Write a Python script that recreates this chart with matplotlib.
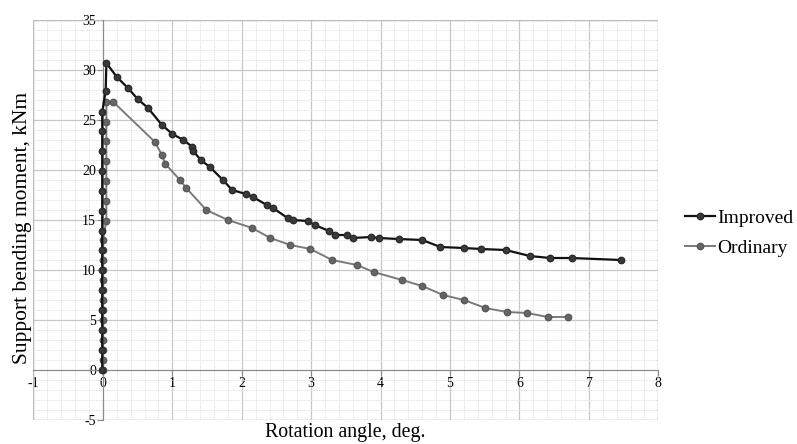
import matplotlib.pyplot as plt
from matplotlib.ticker import MultipleLocator
import matplotlib.lines as mlines

plt.rcParams['font.family'] = ['Liberation Serif', 'DejaVu Serif']
plt.rcParams['axes.unicode_minus'] = False

# Improved
imp_x = [-0.01, -0.01, -0.01, -0.01, -0.01, -0.01, -0.01, -0.01, -0.01, -0.01, -0.01, -0.01, -0.01, -0.01,
         0.04, 0.05, 0.2, 0.36, 0.5, 0.65, 0.85, 1.0, 1.16, 1.29, 1.3, 1.41, 1.54, 1.73, 1.86, 2.06, 2.16,
         2.36, 2.45, 2.66, 2.74, 2.95, 3.05, 3.26, 3.35, 3.51, 3.6, 3.86, 3.97, 4.26, 4.6, 4.86, 5.2, 5.45,
         5.8, 6.15, 6.44, 6.75, 7.46]
imp_y = [0, 2, 4, 6, 8, 10, 12, 13.9, 15.9, 17.9, 19.9, 21.9, 23.9, 25.8,
         27.9, 30.7, 29.3, 28.2, 27.1, 26.2, 24.5, 23.6, 23.0, 22.3, 21.9, 21.0, 20.3, 19.0, 18.0, 17.6, 17.3,
         16.5, 16.2, 15.2, 15.0, 14.9, 14.5, 13.9, 13.5, 13.5, 13.2, 13.3, 13.2, 13.1, 13.0, 12.3, 12.2, 12.1,
         12.0, 11.4, 11.2, 11.2, 11.0]

# Ordinary
ord_x = [0, 0, 0, 0, 0, 0, 0, 0, 0, 0, 0, 0, 0, 0,
         0.05, 0.05, 0.05, 0.05, 0.05, 0.05, 0.05, 0.15,
         0.75, 0.85, 0.9, 1.11, 1.2, 1.49, 1.8, 2.15, 2.41, 2.7, 2.99, 3.3, 3.66, 3.9, 4.31, 4.6,
         4.9, 5.2, 5.51, 5.82, 6.11, 6.41, 6.7]
ord_y = [0, 1, 2, 3, 4, 5, 6, 7, 8, 9, 10, 11, 12, 13,
         14.9, 16.9, 18.9, 20.9, 22.9, 24.8, 26.8, 26.8,
         22.8, 21.5, 20.6, 19.0, 18.2, 16.0, 15.0, 14.2, 13.2, 12.5, 12.1, 11.0, 10.5, 9.8, 9.0, 8.4,
         7.5, 7.0, 6.2, 5.8, 5.7, 5.3, 5.3]

fig = plt.figure(figsize=(7.97, 4.44), dpi=100)
ax = fig.add_axes([0.042, 0.054, 0.784, 0.901])

ax.plot(imp_x, imp_y, color='#111111', lw=1.6, marker='o', ms=4.6,
        mfc='#3a3a3a', mec='#2a2a2a', label='Improved', zorder=4)
ax.plot(ord_x, ord_y, color='#7a7a7a', lw=1.4, marker='o', ms=4.6,
        mfc='#666666', mec='#5a5a5a', label='Ordinary', zorder=3)

ax.set_xlim(-1, 8)
ax.set_ylim(-5, 35)
ax.xaxis.set_major_locator(MultipleLocator(1))
ax.yaxis.set_major_locator(MultipleLocator(5))
ax.xaxis.set_minor_locator(MultipleLocator(0.2))
ax.yaxis.set_minor_locator(MultipleLocator(1))
ax.grid(which='major', color='#c8c8c8', lw=0.9)
ax.grid(which='minor', color='#e2e2e2', lw=0.6, ls=(0, (2, 1)))
ax.set_axisbelow(True)

ax.spines['left'].set_position(('data', 0))
ax.spines['bottom'].set_position(('data', 0))
ax.spines['left'].set_color('#8a8a8a')
ax.spines['bottom'].set_color('#8a8a8a')
ax.spines['right'].set_visible(False)
ax.spines['top'].set_visible(False)
ax.add_patch(plt.Rectangle((-1, -5), 9, 40, fill=False, ec='#bdbdbd', lw=1, zorder=1))

ax.tick_params(which='major', length=4, color='#8a8a8a', labelsize=10, pad=1)
ax.tick_params(which='minor', length=0)

fig.text(0.433, 0.004, 'Rotation angle, deg.', ha='center', va='bottom', fontsize=14.3)
fig.text(0.028, 0.487, 'Support bending moment, kNm', ha='center', va='center',
         rotation=90, fontsize=15.5)

h1 = mlines.Line2D([], [], color='#111111', lw=1.6, marker='o', ms=4.6, mfc='#3a3a3a', mec='#2a2a2a')
h2 = mlines.Line2D([], [], color='#7a7a7a', lw=1.4, marker='o', ms=4.6, mfc='#666666', mec='#5a5a5a')
fig.legend([h1, h2], ['Improved', 'Ordinary'], loc='center left', bbox_to_anchor=(0.8595, 0.475),
           frameon=False, fontsize=14, handlelength=1.55, handletextpad=0.1, labelspacing=0.6,
           borderpad=0, borderaxespad=0)

fig.savefig('out.png', dpi=100)
